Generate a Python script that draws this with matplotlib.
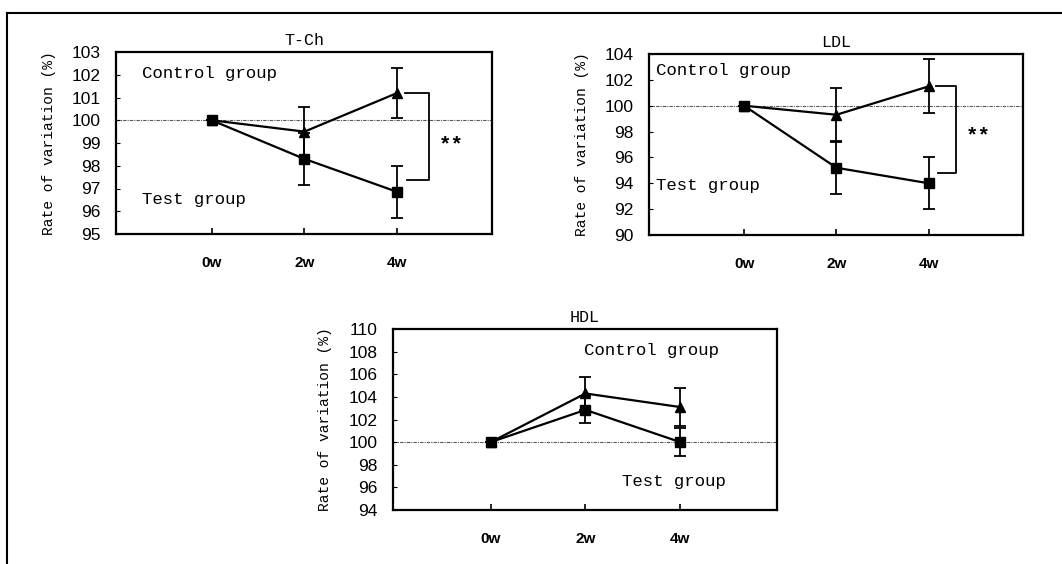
import matplotlib
matplotlib.use("Agg")
import matplotlib.pyplot as plt
from matplotlib.lines import Line2D

weeks = ["0w", "2w", "4w"]

# T-Ch
tch_ctrl = [100.0, 99.5, 101.2]
tch_ctrl_err = [0.0, 1.1, 1.1]
tch_test = [100.0, 98.3, 96.85]
tch_test_err = [0.0, 1.15, 1.15]

# LDL
ldl_ctrl = [100.0, 99.3, 101.5]
ldl_ctrl_err = [0.0, 2.1, 2.1]
ldl_test = [100.0, 95.2, 94.0]
ldl_test_err = [0.0, 2.05, 2.0]

# HDL
hdl_ctrl = [100.0, 104.3, 103.1]
hdl_ctrl_err = [0.0, 1.45, 1.7]
hdl_test = [100.0, 102.85, 100.0]
hdl_test_err = [0.0, 1.2, 1.25]

W, H = 1062, 564
mono = "Liberation Mono"
num = "Liberation Sans"


def px_axes(fig, left, top, right, bottom):
    return fig.add_axes([left / W, (H - bottom) / H, (right - left) / W, (bottom - top) / H])


def panel(ax, title, ctrl, ctrl_err, test, test_err, ylim, yticks,
          ctrl_pos, test_pos, bracket=None):
    x = list(range(len(weeks)))
    ax.axhline(100, color="#555555", lw=0.8, ls=(0, (3, 1, 1, 1)), zorder=1)
    ax.errorbar(x, ctrl, yerr=ctrl_err, color="black", lw=1.6, marker="^",
                ms=7, capsize=4, capthick=1.3, elinewidth=1.3, zorder=3)
    ax.errorbar(x, test, yerr=test_err, color="black", lw=1.6, marker="s",
                ms=7, capsize=4, capthick=1.3, elinewidth=1.3, zorder=3)
    ax.set_xlim(-1.03, 3.02)
    ax.set_ylim(*ylim)
    ax.set_yticks(yticks)
    ax.set_xticks(x)
    ax.set_xticklabels(weeks, fontfamily=num, fontsize=11, fontweight="bold")
    for lab in ax.get_yticklabels():
        lab.set_fontfamily(num)
        lab.set_fontsize(12.5)
    ax.tick_params(axis="x", direction="in", length=4, pad=16, width=1.2)
    ax.tick_params(axis="y", direction="in", length=3, pad=11, width=0.8)
    for s in ax.spines.values():
        s.set_linewidth(1.6)
    ax.set_title(title, fontfamily=mono, fontsize=12, pad=5)
    ax.set_ylabel("Rate of variation (%)", fontfamily=mono, fontsize=10.5)
    ax.yaxis.set_label_coords(-0.16, 0.5)
    ax.text(ctrl_pos[0], ctrl_pos[1], "Control group", fontfamily=mono,
            fontsize=12.5, va="center", ha="left")
    ax.text(test_pos[0], test_pos[1], "Test group", fontfamily=mono,
            fontsize=12.5, va="center", ha="left")
    if bracket is not None:
        top, low, xv, star_y = bracket
        ax.plot([2.08, xv, xv, 2.1], [top, top, low, low], color="black", lw=1.3)
        ax.text(xv + 0.11, star_y, "**", fontfamily=mono, fontsize=15,
                va="center", ha="left", fontweight="bold")


fig = plt.figure(figsize=(W / 100, H / 100), dpi=100)

ax1 = px_axes(fig, 116, 52, 492, 234)
panel(ax1, "T-Ch", tch_ctrl, tch_ctrl_err, tch_test, tch_test_err,
      (95, 103), range(95, 104), (-0.75, 102.05), (-0.75, 96.5),
      bracket=(tch_ctrl[2], 97.37, 2.34, 98.9))

ax2 = px_axes(fig, 649, 54, 1023, 235)
panel(ax2, "LDL", ldl_ctrl, ldl_ctrl_err, ldl_test, ldl_test_err,
      (90, 104), range(90, 105, 2), (-0.95, 102.7), (-0.95, 93.8),
      bracket=(ldl_ctrl[2], 94.8, 2.29, 97.7))

ax3 = px_axes(fig, 393, 329, 777, 510)
panel(ax3, "HDL", hdl_ctrl, hdl_ctrl_err, hdl_test, hdl_test_err,
      (94, 110), range(94, 111, 2), (0.98, 108.1), (1.38, 96.5))

# frame lines of the original figure box
fig.add_artist(Line2D([7 / W, 7 / W], [0, 1 - 13 / H], color="black", lw=1.5))
fig.add_artist(Line2D([7 / W, 1], [1 - 13 / H, 1 - 13 / H], color="black", lw=1.5))

fig.savefig("out.png", dpi=100, facecolor="white")
